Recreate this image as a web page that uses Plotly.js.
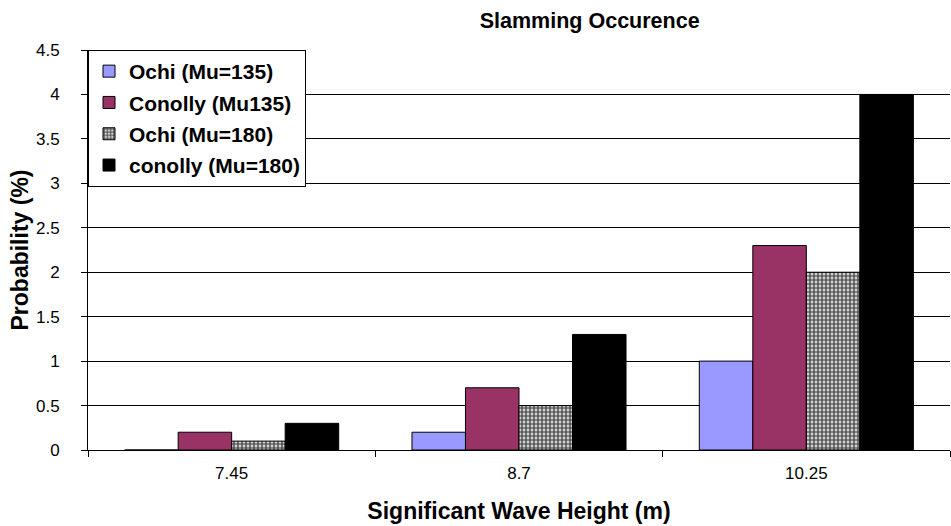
<!DOCTYPE html>
<html>
<head>
<meta charset="utf-8">
<script src="https://cdn.plot.ly/plotly-3.0.1.min.js"></script>
<style>html,body{margin:0;padding:0;background:#fff;}#chart{width:951px;height:526px;}</style>
</head>
<body>
<div id="chart"></div>
<script>
const categories = ["7.45", "8.7", "10.25"];
const ochi135 = [0, 0.2, 1.0];
const conolly135 = [0.2, 0.7, 2.3];
const ochi180 = [0.1, 0.5, 2.0];
const conolly180 = [0.3, 1.3, 4.0];
const seriesNames = ["Ochi (Mu=135)", "Conolly (Mu135)", "Ochi (Mu=180)", "conolly (Mu=180)"];

const FONT = "Liberation Sans, Arial, sans-serif";
const line = {color: "#000", width: 1};

const traces = [
  {type: "bar", name: seriesNames[0], legendgroup: "a", x: categories, y: ochi135,
   marker: {color: "#9999FF", line: line}},
  {type: "bar", name: seriesNames[1], legendgroup: "b", x: categories, y: conolly135,
   marker: {color: "#993366", line: line}},
  {type: "bar", name: seriesNames[2], legendgroup: "c", x: categories, y: ochi180,
   marker: {color: "#ffffff", line: line,
            pattern: {shape: ".", fgcolor: "#5a5a5a", bgcolor: "#ffffff", size: 4, solidity: 0.7}}},
  {type: "bar", name: seriesNames[3], legendgroup: "d", x: categories, y: conolly180,
   marker: {color: "#000000", line: line}}
];

const layout = {
  width: 951, height: 526,
  margin: {l: 88, r: 1, t: 50, b: 76},
  paper_bgcolor: "#fff", plot_bgcolor: "#fff",
  font: {family: FONT, color: "#000", size: 17},
  barmode: "group", bargap: 0.255, bargroupgap: 0,
  title: {text: "<b>Slamming Occurence</b>", font: {family: FONT, size: 21.5, color: "#000"},
          x: 0.582, xref: "paper", xanchor: "center", y: 0.962, yref: "container", yanchor: "middle"},
  xaxis: {
    type: "category",
    title: {text: "<b>Significant Wave Height (m)</b>", font: {family: FONT, size: 23}, standoff: 20},
    showline: true, linecolor: "#000", linewidth: 1,
    ticks: "outside", tickson: "boundaries", ticklen: 6, tickcolor: "#000",
    ticklabelstandoff: 8,
    tickfont: {family: FONT, size: 17}, showgrid: false, zeroline: false
  },
  yaxis: {
    title: {text: "<b>Probability (%)</b>", font: {family: FONT, size: 23}, standoff: 0},
    range: [0, 4.5], dtick: 0.5, tick0: 0,
    showline: true, linecolor: "#000", linewidth: 1,
    ticks: "outside", ticklen: 6, tickcolor: "#000",
    ticklabelstandoff: 18,
    showgrid: true, gridcolor: "#000", gridwidth: 1,
    zeroline: false, tickfont: {family: FONT, size: 17}
  },
  legend: {
    x: 0, y: 1, xanchor: "left", yanchor: "top",
    bordercolor: "#000", borderwidth: 1, bgcolor: "#fff",
    font: {family: FONT, size: 21, weight: "bold", color: "#000"},
    traceorder: "grouped", tracegroupgap: 1, itemwidth: 30
  },
  showlegend: true
};

Plotly.newPlot("chart", traces, layout, {displayModeBar: false, staticPlot: true});
</script>
</body>
</html>
